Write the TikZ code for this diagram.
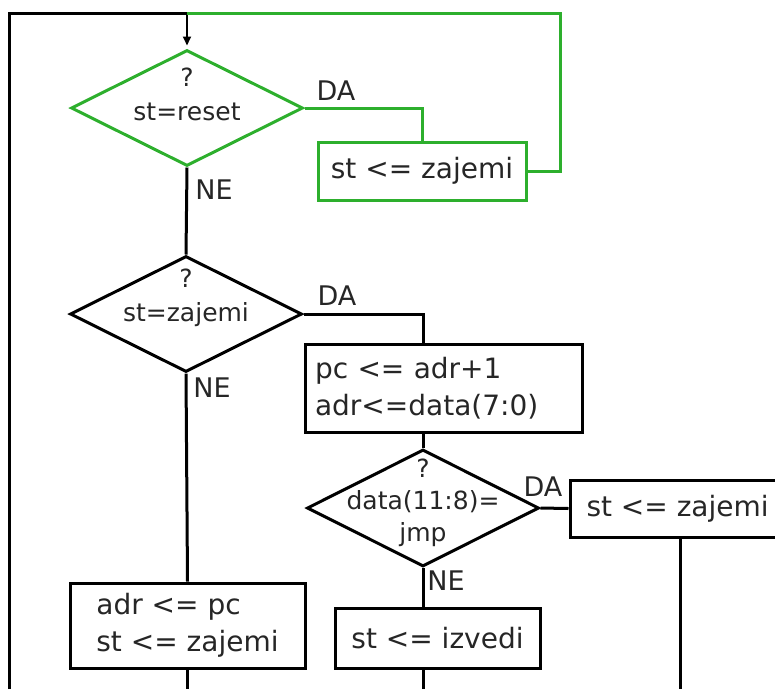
\documentclass[tikz,border=0pt]{standalone}
\usepackage{fontspec}
\setmainfont{DejaVu Sans}
\usetikzlibrary{shapes.geometric,arrows.meta}
\definecolor{fcgreen}{RGB}{45,175,45}
\begin{document}
\begin{tikzpicture}[x=1pt,y=-1pt,line width=3pt,
  every node/.style={text=black!85},
  boxfont/.style={font=\fontsize{28}{37}\selectfont},
  decfont/.style={font=\fontsize{25}{34}\selectfont},
  decbox/.style={diamond, draw, line width=3pt, inner sep=0pt, minimum width=232pt, minimum height=116pt},
  actbox/.style={rectangle, draw, line width=3pt, inner sep=0pt, align=left, boxfont},
  lbl/.style={inner sep=0pt, font=\fontsize{27}{32}\selectfont},
  gr/.style={draw=fcgreen}]
\useasboundingbox (0,0) rectangle (775,689);
% coordinates of free ends
\coordinate (bl) at (9,689);
\coordinate (tl) at (9,13);
\coordinate (tj) at (187,13);
\coordinate (tr) at (560,13);
% nodes
\node[decbox, gr] (d1) at (187,108) {};
\node[align=center, decfont] (t1) at (187,94) {?\\st=reset};
\node[actbox, gr, minimum width=208pt, minimum height=58pt] (b1) at (422,171) {st <= zajemi};
\node[decbox] (d2) at (186,314) {};
\node[align=center, decfont] (t2) at (186,298) {?\\st=zajemi};
\node[actbox, inner xsep=10pt, text width=257pt, minimum height=88pt] (b2) at (443.5,388) {pc <= adr+1\\adr<=data(7:0)};
\node[decbox, minimum height=117pt] (d3) at (423,508) {};
\node[align=center, font=\fontsize{25}{32}\selectfont] (t3) at (423,503) {?\\data(11:8)=\\jmp};
\node[draw, rectangle, line width=3pt, minimum width=220pt, minimum height=57pt] (b3) at (680,508.5) {};
\node[anchor=west, boxfont, inner sep=0pt] (t4) at (585,508.5) {st <= zajemi};
\node[actbox, minimum width=205pt, minimum height=60pt] (b4) at (437.5,638) {st <= izvedi};
\node[actbox, minimum width=235pt, minimum height=85pt] (b5) at (187.5,625.5) {adr <= pc\\st <= zajemi};
% labels
\node[lbl] (da1) at (336,91) {DA};
\node[lbl] (ne1) at (214,190) {NE};
\node[lbl] (da2) at (337,296) {DA};
\node[lbl] (ne2) at (212,388) {NE};
\node[lbl] (da3) at (543,487) {DA};
\node[lbl] (ne3) at (446,581) {NE};
% connectors
\draw (bl) -- (tl) -- (tj);
\draw[-{Triangle[length=9pt,width=8pt]}, line width=1.8pt, shorten >=3pt] (tj) -- (d1.north);
\draw[gr] (d1.east) -| (b1.north);
\draw[gr] (b1.east) -| (tr) -- (tj);
\draw (d1.south) -- (d2.north);
\draw (d2.east) -| (d3.north |- b2.north);
\draw (d3.north |- b2.south) -- (d3.north);
\draw (d3.east) -- (b3.west);
\draw (b3.south) -- (b3.south |- bl);
\draw (d3.south) -- (d3.south |- b4.north);
\draw (d3.south |- b4.south) -- (d3.south |- bl);
\draw (d2.south) -- (b5.north);
\draw (b5.south) -- (b5.south |- bl);
\end{tikzpicture}
\end{document}
